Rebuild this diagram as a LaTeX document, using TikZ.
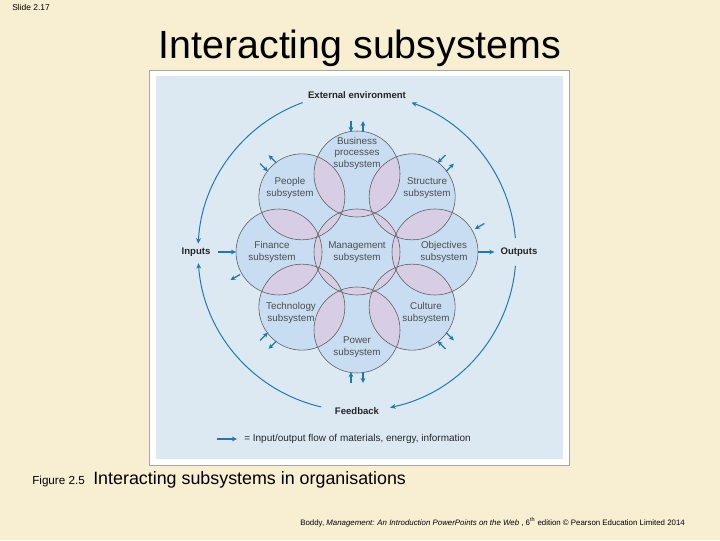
\documentclass[tikz,border=0pt]{standalone}
\usepackage{fontspec}
\setmainfont{Liberation Sans}
\usetikzlibrary{arrows.meta,calc}
\definecolor{slidebg}{HTML}{F8EFD3}
\definecolor{panelblue}{HTML}{DCE9F3}
\definecolor{subblue}{HTML}{C8DDF1}
\definecolor{overlap}{HTML}{D7CDE5}
\definecolor{flowblue}{HTML}{1F78B4}
\definecolor{rimgray}{HTML}{5A5A5A}
\definecolor{labelgray}{HTML}{4D4D4D}

\begin{document}
\begin{tikzpicture}[x=0.025cm,y=0.025cm,
    disc/.style={circle,minimum size=2.15cm,inner sep=0pt,outer sep=0pt,fill=subblue},
    subtext/.style={align=center,text=labelgray,font=\fontsize{7}{8.2}\selectfont},
    keytext/.style={text=black!85,font=\fontsize{6.8}{8}\selectfont\bfseries},
    flow/.style={flowblue,line width=0.7pt,-{Stealth[length=4pt,width=3.4pt]}},
    smallflow/.style={flowblue,line width=0.9pt,-{Stealth[length=3.6pt,width=3.4pt]}}]

  % slide background and figure frame
  \fill[slidebg] (0,0) rectangle (720,540);
  \useasboundingbox (0,0) rectangle (720,540);
  \draw[gray!70,fill=white] (149.5,75) rectangle (569,470);
  \fill[panelblue] (155.5,81) rectangle (562.5,464);

  % subsystem circles
  \coordinate (ring) at (357,288);
  \node[disc] (mgmt) at (ring) {};
  \foreach \n/\a in {obje/0,stru/45,bus/90,peop/135,fina/180,tech/225,powe/270,cult/315}
    \node[disc] (\n) at ($(ring)+(\a:78)$) {};

  % overlapping parts
  \foreach \p/\q in {bus/peop,bus/stru,peop/fina,stru/obje,fina/tech,obje/cult,tech/powe,cult/powe,
                     mgmt/bus,mgmt/peop,mgmt/stru,mgmt/fina,mgmt/obje,mgmt/tech,mgmt/cult,mgmt/powe}{
    \begin{scope}
      \clip (\p.center) circle[radius=43];
      \fill[overlap] (\q.center) circle[radius=43];
    \end{scope}}
  \foreach \n in {mgmt,obje,stru,bus,peop,fina,tech,powe,cult}
    \draw[rimgray,line width=0.4pt] (\n.center) circle[radius=43];

  % subsystem names
  \node[subtext] (bus-t) at (357,387) {Business\\processes\\subsystem};
  \node[subtext] (peop-t) at (290,352) {People\\subsystem};
  \node[subtext] (stru-t) at (427,352) {Structure\\subsystem};
  \node[subtext] (fina-t) at (272,288) {Finance\\subsystem};
  \node[subtext] (mgmt-t) at (357,288) {Management\\subsystem};
  \node[subtext] (obje-t) at (444,288) {Objectives\\subsystem};
  \node[subtext] (tech-t) at (291,227) {Technology\\subsystem};
  \node[subtext] (cult-t) at (426,227) {Culture\\subsystem};
  \node[subtext] (powe-t) at (357,193) {Power\\subsystem};

  % environment labels and loops
  \node[keytext] (ext) at (357,445) {External environment};
  \node[keytext] (inputs) at (196,288) {Inputs};
  \node[keytext] (outputs) at (519,288) {Outputs};
  \node[keytext] (feedback) at (357,129) {Feedback};
  \draw[flow] ($(ring)+(110:159)$) arc[start angle=110,end angle=177,radius=159];
  \draw[flow] ($(ring)+(5:159)$) arc[start angle=5,end angle=70,radius=159];
  \draw[flow] ($(ring)+(257:159)$) arc[start angle=257,end angle=184,radius=159];
  \draw[flow] ($(ring)+(355:159)$) arc[start angle=355,end angle=282,radius=159];
  \draw[smallflow,shorten <=2pt] (inputs.east) -- (fina.west);
  \draw[smallflow,shorten >=1pt] (obje.east) -- (outputs.west);

  % small in/out flows
  \foreach \n/\a/\i/\o in {bus/90/180/0,peop/135/225/45,stru/45/135/315,
                           tech/225/135/315,cult/315/225/45,powe/270/180/0}{
    \draw[smallflow] ($(\n.center)+(\a:53)+(\i:6)$) -- ($(\n.center)+(\a:42)+(\i:6)$);
    \draw[smallflow] ($(\n.center)+(\a:42)+(\o:6)$) -- ($(\n.center)+(\a:53)+(\o:6)$);
  }
  \draw[smallflow] ($(fina.center)+(210:45)$) -- ($(fina.center)+(210:56)$);
  \draw[smallflow] ($(obje.center)+(30:57)$) -- ($(obje.center)+(30:46)$);

  % key
  \node[anchor=west,inner sep=0pt,text=black!85,font=\fontsize{7.1}{8}\selectfont] (key) at (244,101)
    {= Input/output flow of materials, energy, information};
  \coordinate (key-a) at (217,101);
  \draw[smallflow] (key-a) -- ($(key.west)+(-7,0)$);

  % slide texts
  \node[anchor=base west,inner sep=0pt,font=\fontsize{6}{7}\selectfont] (slideno) at (12,529) {Slide 2.17};
  \node[anchor=base,inner sep=0pt,font=\fontsize{28}{32}\selectfont] (title) at (360,481) {Interacting subsystems};
  \node[anchor=base west,inner sep=0pt,font=\fontsize{8.3}{10}\selectfont] (fignum) at (32,56) {Figure 2.5};
  \node[anchor=base west,inner sep=0pt,font=\fontsize{12.7}{15}\selectfont] (caption) at (93,56)
    {Interacting subsystems in organisations};
  \node[anchor=base west,inner sep=0pt,font=\fontsize{5.6}{7}\selectfont] (credit) at (300,15)
    {Boddy, \textit{Management: An Introduction PowerPoints on the Web} , 6\textsuperscript{th} edition \textcopyright{} Pearson Education Limited 2014};
\end{tikzpicture}
\end{document}
